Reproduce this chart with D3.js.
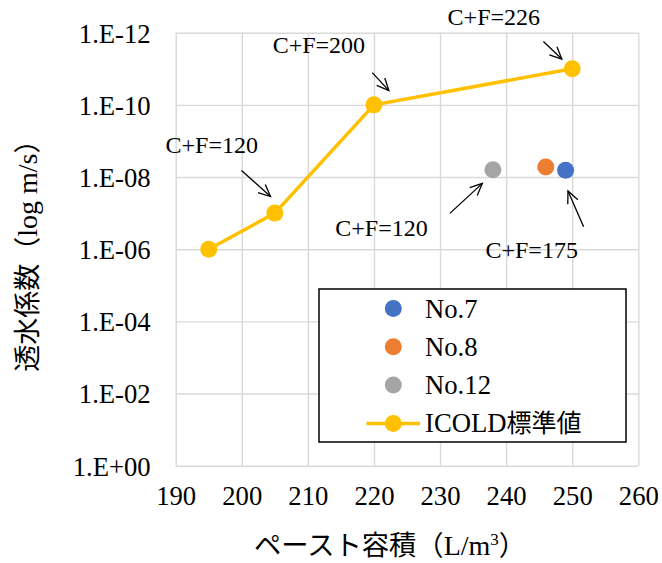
<!DOCTYPE html>
<html>
<head>
<meta charset="utf-8">
<script src="https://cdn.jsdelivr.net/npm/d3@7"></script>
<style>
  body { margin: 0; background: #fff; }
  svg { display: block; }
  .serif { font-family: "Liberation Serif", "Times New Roman", serif; }
  .cjk { font-family: "Noto Sans CJK JP", sans-serif; }
</style>
</head>
<body>
<div id="chart"></div>
<script>
// ICOLD standard line
var icoldX = [195, 205, 220, 250],
    icoldK = [1e-6, 1e-7, 1e-10, 1e-11];

// measured mixes
var seriesNames = ["No.7", "No.8", "No.12"],
    seriesX = [249, 246, 238],
    seriesK = [6.5e-9, 5.3e-9, 6.3e-9],
    seriesColors = ["#4472C4", "#ED7D31", "#A5A5A5"];

var xTicks = [190, 200, 210, 220, 230, 240, 250, 260],
    yTicks = [1, 1e-2, 1e-4, 1e-6, 1e-8, 1e-10, 1e-12];

// C+F labels: which point they point at
var annLabels = ["C+F=120", "C+F=200", "C+F=226", "C+F=120", "C+F=175"],
    annX = [205, 220, 250, 238, 249],
    annK = [1e-7, 1e-10, 1e-11, 6.3e-9, 6.5e-9];

var width = 662,
    height = 563,
    margin = {top: 32.7, right: 23.7, bottom: 97.3, left: 175.7},
    w = width - margin.left - margin.right,
    h = height - margin.top - margin.bottom;

var svg = d3.select("#chart").append("svg")
    .attr("width", width)
    .attr("height", height);

var g = svg.append("g")
    .attr("transform", "translate(" + margin.left + "," + margin.top + ")");

var xScale = d3.scaleLinear().domain([190, 260]).range([0, w]),
    yScale = d3.scaleLog().domain([1, 1e-12]).range([h, 0]);

function fmtE(v) {
    var e = Math.round(Math.log10(v));
    var s = e < 0 ? "-" : "+";
    return "1.E" + s + String(Math.abs(e)).padStart(2, "0");
}

// grid + axes
var xAxis = d3.axisBottom(xScale).tickValues(xTicks).tickSizeInner(-h).tickSizeOuter(0).tickPadding(14),
    yAxis = d3.axisLeft(yScale).tickValues(yTicks).tickSizeInner(-w).tickSizeOuter(0).tickPadding(25).tickFormat(fmtE);

var gx = g.append("g").attr("transform", "translate(0," + h + ")").call(xAxis);
var gy = g.append("g").call(yAxis);

[gx, gy].forEach(function(a) {
    a.select(".domain").remove();
    a.selectAll("line").attr("stroke", "#d9d9d9").attr("stroke-width", 1.4);
    a.selectAll("text")
        .attr("class", "serif")
        .attr("font-size", 26.7)
        .attr("fill", "#000");
});
gx.selectAll("text").attr("dy", "0.95em");
gy.selectAll("text").attr("dy", "0.35em");

// ICOLD line
var line = d3.line()
    .x(function(d) { return xScale(d[0]); })
    .y(function(d) { return yScale(d[1]); });
var icold = icoldX.map(function(x, i) { return [x, icoldK[i]]; });

g.append("path")
    .datum(icold)
    .attr("d", line)
    .attr("fill", "none")
    .attr("stroke", "#FFC000")
    .attr("stroke-width", 3.5);

g.selectAll("circle.icold")
    .data(icold)
    .enter().append("circle")
    .attr("class", "icold")
    .attr("cx", function(d) { return xScale(d[0]); })
    .attr("cy", function(d) { return yScale(d[1]); })
    .attr("r", 8.5)
    .attr("fill", "#FFC000");

// measured points
g.selectAll("circle.meas")
    .data(seriesNames)
    .enter().append("circle")
    .attr("class", "meas")
    .attr("cx", function(d, i) { return xScale(seriesX[i]); })
    .attr("cy", function(d, i) { return yScale(seriesK[i]); })
    .attr("r", 8.5)
    .attr("fill", function(d, i) { return seriesColors[i]; });

// arrows + C+F labels (offsets in px from the target point)
svg.append("defs").append("marker")
    .attr("id", "vhead")
    .attr("markerUnits", "userSpaceOnUse")
    .attr("viewBox", "-14 -7 16 14")
    .attr("markerWidth", 16)
    .attr("markerHeight", 14)
    .attr("refX", 0)
    .attr("refY", 0)
    .attr("orient", "auto")
    .append("path")
    .attr("d", "M-12,-5.5L0,0L-12,5.5")
    .attr("fill", "none")
    .attr("stroke", "#000")
    .attr("stroke-width", 1.3);

var annOffsets = [
    {head: [-4.3, -16.6], tail: [-33.3, -42.6], text: [-63.1, -60.6]},
    {head: [14.9, -14.3], tail: [-1.7, -32.3], text: [-55.1, -51.7]},
    {head: [-10.4, -9.7], tail: [-28.8, -27.3], text: [-78.4, -44]},
    {head: [-10.6, 13.6], tail: [-43, 43.6], text: [-111.4, 66.3]},
    {head: [2.4, 20.7], tail: [18, 56.4], text: [-33.9, 88]}
];

annLabels.forEach(function(lbl, i) {
    var px = xScale(annX[i]), py = yScale(annK[i]), o = annOffsets[i];
    g.append("line")
        .attr("x1", px + o.tail[0]).attr("y1", py + o.tail[1])
        .attr("x2", px + o.head[0]).attr("y2", py + o.head[1])
        .attr("stroke", "#000")
        .attr("stroke-width", 1.3)
        .attr("marker-end", "url(#vhead)");
    g.append("text")
        .attr("class", "serif")
        .attr("x", px + o.text[0])
        .attr("y", py + o.text[1])
        .attr("text-anchor", "middle")
        .attr("font-size", 24)
        .text(lbl);
});

// axis titles
var yt = svg.append("text")
    .attr("transform", "translate(37," + (margin.top + h / 2) + ") rotate(-90)")
    .attr("text-anchor", "middle")
    .attr("font-size", 27);
yt.append("tspan").attr("class", "cjk").text("透水係数（");
yt.append("tspan").attr("class", "serif").attr("font-size", 28).text("log m/s");
yt.append("tspan").attr("class", "cjk").text("）");

var xt = svg.append("text")
    .attr("x", 390)
    .attr("y", 555)
    .attr("text-anchor", "middle")
    .attr("font-size", 27.3);
xt.append("tspan").attr("class", "cjk").text("ペースト容積（");
xt.append("tspan").attr("class", "serif").attr("font-size", 28).text("L/m");
xt.append("tspan").attr("class", "serif").attr("font-size", 17).attr("dy", -10).text("3");
xt.append("tspan").attr("class", "cjk").attr("dy", 10).text("）");

// legend
var lg = svg.append("g").attr("transform", "translate(319,289)");
lg.append("rect")
    .attr("width", 307)
    .attr("height", 153)
    .attr("fill", "#fff")
    .attr("stroke", "#000")
    .attr("stroke-width", 1.5);

var legendNames = seriesNames.concat(["ICOLD"]),
    legendColors = seriesColors.concat(["#FFC000"]);

legendNames.forEach(function(name, i) {
    var cy = 19.5 + i * 38.3;
    if (i == 3) {
        lg.append("line")
            .attr("x1", 47.5).attr("x2", 101)
            .attr("y1", cy).attr("y2", cy)
            .attr("stroke", legendColors[i])
            .attr("stroke-width", 3.5);
    }
    lg.append("circle")
        .attr("cx", 74.3).attr("cy", cy).attr("r", 8.5)
        .attr("fill", legendColors[i]);
    var t = lg.append("text")
        .attr("x", 106)
        .attr("y", cy + 9)
        .attr("font-size", 26.7);
    t.append("tspan").attr("class", "serif").text(name);
    if (i == 3) t.append("tspan").attr("class", "cjk").attr("font-size", 25).text("標準値");
});
</script>
</body>
</html>
